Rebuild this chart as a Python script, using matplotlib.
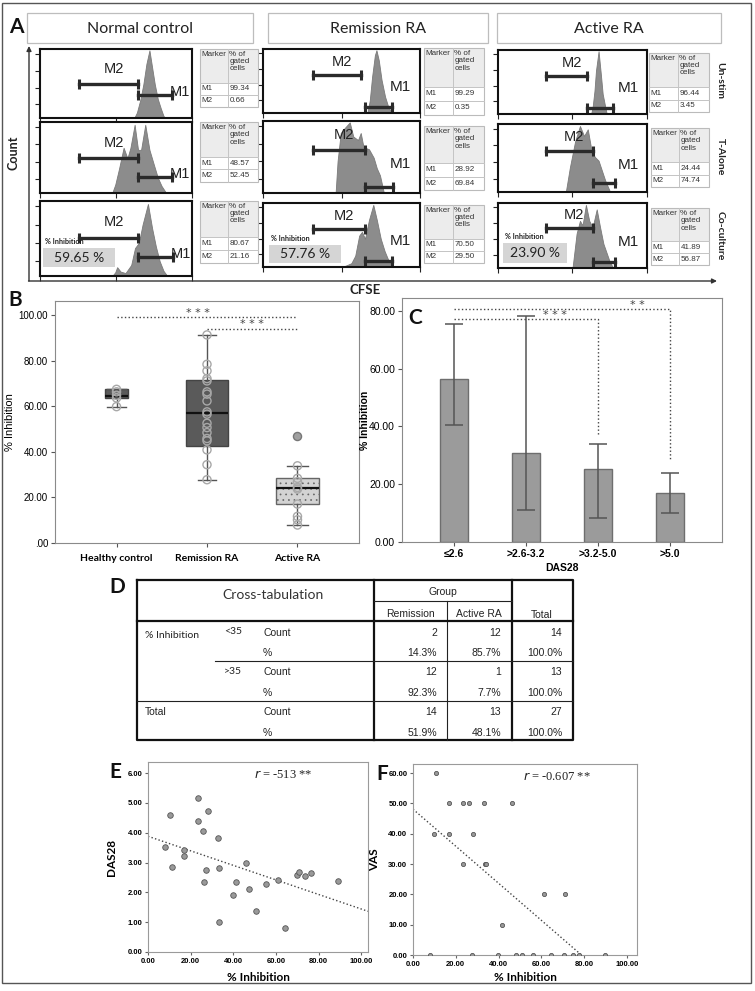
import matplotlib.pyplot as plt
import numpy as np
from matplotlib import font_manager
from matplotlib.patches import Rectangle

W, H = 755, 991

names = {f.name for f in font_manager.fontManager.ttflist}
ARIAL = 'Liberation Sans'
NARROW = 'Liberation Sans Narrow' if 'Liberation Sans Narrow' in names else 'Liberation Sans'
CALIBRI = 'Lato' if 'Lato' in names else 'DejaVu Sans'
SERIF = 'Liberation Serif'
plt.rcParams['font.family'] = ARIAL
plt.rcParams['hatch.color'] = '#9a9a9a'
plt.rcParams['hatch.linewidth'] = 0.5

# ---------------- A: CFSE histograms ----------------
groups = ['Normal control', 'Remission RA', 'Active RA']
conditions = ['Un-stim', 'T-Alone', 'Co-culture']

# histogram outlines: (log10 CFSE, relative count)
nc_unstim = [(2.48, 0), (2.55, 0.08), (2.64, 0.27), (2.72, 0.5), (2.80, 0.8), (2.88, 1.0), (2.95, 0.75),
             (3.02, 0.5), (3.1, 0.28), (3.18, 0.14), (3.25, 0.03), (3.3, 0)]
nc_talone = [(1.9, 0), (1.98, 0.12), (2.08, 0.35), (2.2, 0.65), (2.3, 0.5), (2.38, 0.65), (2.49, 0.98),
             (2.58, 0.62), (2.66, 0.62), (2.77, 0.98), (2.88, 0.62), (3.0, 0.4), (3.1, 0.22), (3.2, 0.1), (3.32, 0)]
nc_cocult = [(1.9, 0), (1.98, 0.05), (2.03, 0.12), (2.12, 0.06), (2.25, 0.04), (2.4, 0.15), (2.5, 0.38),
             (2.6, 0.45), (2.7, 0.7), (2.84, 0.98), (2.95, 0.65), (3.05, 0.4), (3.15, 0.2), (3.25, 0.07), (3.35, 0)]
rem_unstim = [(2.66, 0), (2.72, 0.2), (2.78, 0.58), (2.85, 0.92), (2.89, 1.0), (2.95, 0.84), (3.02, 0.53),
              (3.11, 0.26), (3.19, 0.1), (3.28, 0)]
rem_talone = [(1.85, 0), (1.9, 0.45), (1.98, 0.85), (2.08, 0.92), (2.21, 1.0), (2.3, 0.8), (2.42, 0.75),
              (2.49, 0.85), (2.56, 0.65), (2.7, 0.62), (2.82, 0.5), (2.9, 0.35), (2.98, 0.25), (3.04, 0.1), (3.08, 0)]
rem_cocult = [(1.95, 0), (2.1, 0.02), (2.25, 0.06), (2.35, 0.18), (2.45, 0.5), (2.52, 0.56), (2.6, 0.45),
              (2.7, 0.75), (2.81, 0.99), (2.9, 0.75), (3.0, 0.45), (3.1, 0.25), (3.2, 0.1), (3.3, 0)]
act_unstim = [(2.5, 0), (2.54, 0.11), (2.59, 0.37), (2.63, 0.69), (2.70, 1.0), (2.76, 0.64), (2.81, 0.32),
              (2.88, 0.11), (2.92, 0)]
act_talone = [(1.82, 0), (1.93, 0.37), (2.07, 0.76), (2.20, 0.99), (2.31, 0.84), (2.41, 0.94), (2.52, 0.59),
              (2.61, 0.52), (2.70, 0.47), (2.79, 0.32), (2.88, 0.17), (3.01, 0)]
act_cocult = [(2.0, 0), (2.11, 0.54), (2.20, 0.74), (2.27, 0.67), (2.36, 0.99), (2.45, 0.74), (2.54, 0.64),
              (2.65, 0.92), (2.74, 0.64), (2.83, 0.38), (2.92, 0.23), (3.01, 0.08), (3.1, 0)]
curves = [[nc_unstim, nc_talone, nc_cocult],
          [rem_unstim, rem_talone, rem_cocult],
          [act_unstim, act_talone, act_cocult]]

m1_pct = [[99.34, 48.57, 80.67], [99.29, 28.92, 70.50], [96.44, 24.44, 41.89]]
m2_pct = [[0.66, 52.45, 21.16], [0.35, 69.84, 29.50], [3.45, 74.74, 56.87]]
inhibition_pct = [59.65, 57.76, 23.90]

# gates (log10 start, log10 end, height)
m2_gate = [[(1.03, 2.58, 0.51), (1.03, 2.58, 0.51), (1.03, 2.58, 0.52)],
           [(1.28, 2.49, 0.60), (1.28, 2.60, 0.61), (1.28, 2.60, 0.60)],
           [(1.30, 2.40, 0.61), (1.30, 2.54, 0.62), (1.30, 2.54, 0.62)]]
m1_gate = [[(2.58, 3.47, 0.34), (2.58, 3.47, 0.23), (2.58, 3.50, 0.26)],
           [(2.60, 3.29, 0.09), (2.60, 3.32, 0.08), (2.60, 3.29, 0.09)],
           [(2.40, 3.10, 0.10), (2.54, 3.15, 0.13), (2.54, 3.15, 0.10)]]

# ---------------- B: box plot ----------------
box_groups = ['Healthy control', 'Remission RA', 'Active RA']
box_q1 = [63.7, 42.8, 17.1]
box_med = [64.6, 56.9, 24.1]
box_q3 = [67.5, 71.6, 28.5]
box_lo = [59.9, 27.8, 7.9]
box_hi = [67.5, 91.4, 33.9]
healthy_pts = [67.5, 66.4, 64.9, 63.7, 59.9]
remission_pts = [91.4, 78.5, 75.6, 72.2, 71.2, 66.4, 65.4, 62.4, 57.6, 56.6, 52.6, 50.7, 48.5,
                 45.9, 44.9, 40.9, 34.4, 27.8]
active_pts = [33.9, 28.4, 26.9, 24.4, 23.7, 17.1, 11.7, 10.2, 7.9]
active_outlier = [46.9]

# ---------------- C: bars by DAS28 ----------------
das_groups = ['≤2.6', '>2.6-3.2', '>3.2-5.0', '>5.0']
das_mean = [56.5, 30.8, 25.3, 17.0]
das_low = [40.5, 11.2, 8.2, 10.2]
das_high = [75.3, 78.2, 33.8, 24.0]

# ---------------- D: cross-tabulation ----------------
xt_rows = ['<35', '>35', 'Total']
remission_n = [2, 12, 14]
active_n = [12, 1, 13]
total_n = [14, 13, 27]
remission_p = [14.3, 92.3, 51.9]
active_p = [85.7, 7.7, 48.1]
total_p = [100.0, 100.0, 100.0]

# ---------------- E / F: scatter ----------------
e_inhib = [7.8, 10.1, 11.1, 16.8, 16.8, 23.4, 23.5, 26.0, 26.2, 27.3, 27.9, 33.0, 33.2, 33.5, 39.7,
           41.4, 45.8, 47.5, 50.6, 55.3, 60.9, 64.0, 69.6, 70.6, 73.7, 76.6, 88.9]
e_das28 = [3.52, 4.58, 2.85, 3.42, 3.21, 4.38, 5.16, 4.04, 2.35, 2.74, 4.72, 3.82, 2.82, 0.99, 1.92,
           2.34, 2.98, 2.12, 1.39, 2.27, 2.40, 0.79, 2.59, 2.67, 2.55, 2.65, 2.38]
e_fit = (3.88, -0.0244)
f_inhib = [10.9, 9.8, 16.8, 16.8, 23.5, 26.3, 23.5, 27.9, 33.3, 33.6, 34.0, 46.1, 41.7, 61.4, 71.0,
           7.9, 27.4, 39.9, 48.0, 50.9, 55.9, 64.6, 70.6, 74.6, 77.6, 89.9]
f_vas = [60, 40, 50, 40, 50, 50, 30, 40, 50, 30, 30, 50, 10, 20, 20,
         0, 0, 0, 0, 0, 0, 0, 0, 0, 0, 0]
f_fit = (48.1, -0.611)

fig = plt.figure(figsize=(W / 100, H / 100), dpi=100)


def px_axes(x0, y0, x1, y1):
    return fig.add_axes([x0 / W, 1 - y1 / H, (x1 - x0) / W, (y1 - y0) / H])


# overlay in pixel coordinates for boxes, tables and letters
ov = fig.add_axes([0, 0, 1, 1])
ov.set_xlim(0, W)
ov.set_ylim(H, 0)
ov.axis('off')
ov.set_zorder(10)

ov.add_patch(Rectangle((2, 3), 749, 980, fill=False, ec='#555555', lw=1))

# ---- panel A ----
hist_boxes = [[(40, 49, 192, 118), (40, 122, 192, 193), (40, 201, 192, 276)],
              [(263, 49, 420, 113), (263, 121, 420, 193), (263, 203, 420, 267)],
              [(498, 50, 647, 114), (498, 124, 647, 192), (498, 203, 647, 268)]]
table_boxes = [[(200, 49, 258, 107), (200, 122, 258, 182), (200, 201, 258, 263)],
               [(424, 48, 484, 115), (424, 126, 484, 190), (424, 205, 484, 263)],
               [(649, 53, 709, 112), (651, 128, 709, 187), (651, 208, 709, 265)]]
header_boxes = [(27, 13, 253, 43), (268, 13, 488, 43), (497, 13, 721, 43)]
inhib_boxes = [(43, 248, 115, 267), (269, 245, 341, 263), (503, 243, 567, 263)]

for c in range(3):
    x0, y0, x1, y1 = header_boxes[c]
    ov.add_patch(Rectangle((x0, y0), x1 - x0, y1 - y0, fc='white', ec='#bdbdbd', lw=0.9))
    ov.text((x0 + x1) / 2, (y0 + y1) / 2 + 1, groups[c], ha='center', va='center',
            fontsize=11.5, family=CALIBRI, color='#222222')
    for r in range(3):
        ax = px_axes(*hist_boxes[c][r])
        pts = np.array(curves[c][r])
        ax.fill_between(10 ** pts[:, 0], pts[:, 1], color='#8c8c8c', lw=0.6, ec='#7a7a7a')
        ax.set_xscale('log')
        ax.set_xlim(1, 1e4)
        ax.set_ylim(0, 1.02)
        ax.set_yticks([0.2, 0.45, 0.7, 0.95])
        ax.tick_params(which='both', direction='out', labelbottom=False, labelleft=False,
                       color='#222222', width=0.8)
        ax.tick_params(which='major', length=3.5)
        ax.tick_params(which='minor', length=2)
        for s in ax.spines.values():
            s.set_linewidth(1.5)
            s.set_color('#111111')
        lo, hi, lev = m2_gate[c][r]
        ax.plot([10 ** lo, 10 ** hi], [lev, lev], '-', marker='|', ms=7, mew=2.2, lw=2.4, color='#2a2a2a')
        ax.text(10 ** ((lo + hi) / 2 + 0.13), lev + 0.21, 'M2', ha='center', va='center',
                fontsize=10.5, family=NARROW, color='#222222')
        lo, hi, lev = m1_gate[c][r]
        ax.plot([10 ** lo, 10 ** hi], [lev, lev], '-', marker='|', ms=7, mew=2.2, lw=2.4, color='#2a2a2a')
        if c == 0:
            ax.text(10 ** (hi + 0.22), lev + 0.04, 'M1', ha='center', va='center',
                    fontsize=10.5, family=NARROW, color='#222222')
        else:
            ax.text(10 ** 3.51, 0.41, 'M1', ha='center', va='center',
                    fontsize=11, family=NARROW, color='#222222')

        # gated-cell table
        tx0, ty0, tx1, ty1 = table_boxes[c][r]
        xm = tx0 + 0.48 * (tx1 - tx0)
        yh = ty0 + 0.58 * (ty1 - ty0)
        ym = (yh + ty1) / 2
        ov.add_patch(Rectangle((tx0, ty0), tx1 - tx0, yh - ty0, fc='#ececec', ec='none'))
        ov.add_patch(Rectangle((tx0, ty0), tx1 - tx0, ty1 - ty0, fc='none', ec='#bbbbbb', lw=0.8))
        ov.plot([xm, xm], [ty0, ty1], color='#c4c4c4', lw=0.7)
        ov.plot([tx0, tx1], [yh, yh], color='#c4c4c4', lw=0.7)
        ov.plot([tx0, tx1], [ym, ym], color='#c4c4c4', lw=0.7)
        tk = dict(fontsize=5.8, family=NARROW, color='#333333')
        ov.text(tx0 + 1.2, ty0 + 2, 'Marker', ha='left', va='top', **tk)
        ov.text(xm + 1.5, ty0 + 2, '% of\ngated\ncells', ha='left', va='top', linespacing=1.05, **tk)
        ov.text(tx0 + 1.5, (yh + ym) / 2, 'M1', ha='left', va='center', **tk)
        ov.text(xm + 1.5, (yh + ym) / 2, f'{m1_pct[c][r]:.2f}', ha='left', va='center', **tk)
        ov.text(tx0 + 1.5, (ym + ty1) / 2, 'M2', ha='left', va='center', **tk)
        ov.text(xm + 1.5, (ym + ty1) / 2, f'{m2_pct[c][r]:.2f}', ha='left', va='center', **tk)

    bx0, by0, bx1, by1 = inhib_boxes[c]
    ov.add_patch(Rectangle((bx0, by0), bx1 - bx0, by1 - by0, fc='#d5d5d5', ec='none'))
    ov.text(bx0 + 2, by0 - 3, '% Inhibition', ha='left', va='bottom', fontsize=5.2,
            family=CALIBRI, weight='bold', color='#222222')
    ov.text((bx0 + bx1) / 2, (by0 + by1) / 2, f'{inhibition_pct[c]:.2f} %', ha='center', va='center',
            fontsize=10, family=CALIBRI, color='#222222')

for r, y in zip(range(3), [80, 157, 236]):
    ov.text(720, y, conditions[r], rotation=-90, ha='center', va='center', fontsize=7.5,
            family=CALIBRI, weight='bold', color='#222222')

ov.annotate('', xy=(29, 46), xytext=(29, 281),
            arrowprops=dict(arrowstyle='-|>', color='#333333', lw=1, mutation_scale=7, shrinkA=0, shrinkB=0))
ov.annotate('', xy=(717, 281), xytext=(28.5, 281),
            arrowprops=dict(arrowstyle='-|>', color='#333333', lw=1, mutation_scale=7, shrinkA=0, shrinkB=0))
ov.text(14, 153, 'Count', rotation=90, ha='center', va='center', fontsize=9, family=CALIBRI,
        weight='bold', color='#222222')
ov.text(365, 290, 'CFSE', ha='center', va='center', fontsize=9.5, family=CALIBRI, weight='bold',
        color='#222222')

# ---- panel B ----
axB = px_axes(55, 301, 359, 543)
stats = []
for i in range(3):
    stats.append(dict(label=box_groups[i], q1=box_q1[i], med=box_med[i], q3=box_q3[i],
                      whislo=box_lo[i], whishi=box_hi[i], fliers=[]))
bp = axB.bxp(stats, positions=[1, 2, 3], widths=[0.25, 0.475, 0.475], capwidths=[0.22, 0.2, 0.24],
             patch_artist=True, showfliers=False,
             boxprops=dict(edgecolor='#444444', lw=1),
             medianprops=dict(color='#111111', lw=1.6),
             whiskerprops=dict(color='#555555', lw=1),
             capprops=dict(color='#555555', lw=1))
for patch, fc in zip(bp['boxes'], ['#5a5a5a', '#5a5a5a', '#d3d3d3']):
    patch.set_facecolor(fc)
bp['boxes'][2].set_hatch('...')
bp['boxes'][2].set_edgecolor('#666666')
for pos, pts in zip([1, 2, 3], [healthy_pts, remission_pts, active_pts]):
    axB.scatter([pos] * len(pts), pts, s=34, facecolors='none', edgecolors='#a8a8a8', lw=1, zorder=4)
axB.scatter([3] * len(active_outlier), active_outlier, s=34, facecolors='#a0a0a0', edgecolors='#777777',
            lw=1, zorder=4)
star = dict(ha='center', va='bottom', fontsize=8, family='DejaVu Sans', color='#444444')
axB.plot([1, 3], [99.4, 99.4], ls=':', color='#444444', lw=1)
axB.plot([2, 3], [94.2, 94.2], ls=':', color='#444444', lw=1)
axB.text(1.9, 99.0, '* * *', **star)
axB.text(2.5, 93.8, '* * *', **star)
axB.set_xlim(0.32, 3.68)
axB.set_ylim(0, 106.3)
axB.set_yticks([0, 20, 40, 60, 80, 100], ['.00', '20.00', '40.00', '60.00', '80.00', '100.00'], fontsize=7)
axB.set_xticks([1, 2, 3], box_groups, fontsize=7.5, family=CALIBRI, weight='bold')
axB.tick_params(direction='out', length=3, color='#555555', pad=2)
axB.tick_params(axis='x', pad=5)
for s in axB.spines.values():
    s.set_color('#8a8a8a')
axB.set_ylabel('% Inhibition', fontsize=8)
axB.yaxis.set_label_coords(-0.13, 0.5)

# ---- panel C ----
axC = px_axes(402, 298, 722, 542)
xc = np.arange(len(das_groups))
yerr = [np.array(das_mean) - np.array(das_low), np.array(das_high) - np.array(das_mean)]
axC.bar(xc, das_mean, width=0.385, color='#9b9b9b', edgecolor='#6e6e6e', lw=1,
        yerr=yerr, capsize=6.5, error_kw=dict(ecolor='#555555', elinewidth=1.1, capthick=1.1))
axC.plot([0, 2, 2], [77.1, 77.1, 37], ls=':', color='#444444', lw=1)
axC.plot([0, 3, 3], [80.7, 80.7, 28.3], ls=':', color='#444444', lw=1)
axC.text(1.4, 76.8, '* * *', **star)
axC.text(2.54, 80.4, '* *', **star)
axC.set_xlim(-0.72, 3.72)
axC.set_ylim(0, 84.4)
axC.set_yticks([0, 20, 40, 60, 80], ['0.00', '20.00', '40.00', '60.00', '80.00'], fontsize=7.5)
axC.set_xticks(xc, das_groups, fontsize=7.5, weight='bold')
axC.tick_params(direction='out', length=3, color='#555555', pad=2)
for s in axC.spines.values():
    s.set_color('#8a8a8a')
axC.set_xlabel('DAS28', fontsize=7.5, weight='bold')
axC.xaxis.set_label_coords(0.5, -0.085)
axC.set_ylabel('% Inhibition', fontsize=7.5, weight='bold')
axC.yaxis.set_label_coords(-0.1, 0.5)

# ---- panel D ----
tl, tr, tt, tb = 137, 573, 580, 740
thick = dict(color='#111111', lw=1.6)
thin = dict(color='#222222', lw=0.8)
ov.plot([tl, tr, tr, tl, tl], [tt, tt, tb, tb, tt], **thick)
ov.plot([374, 374], [tt, tb], **thick)
ov.plot([512, 512], [tt, tb], **thick)
ov.plot([447, 447], [601, tb], **thin)
ov.plot([374, 512], [601, 601], **thin)
ov.plot([tl, tr], [621, 621], **thick)
ov.plot([215, tr], [661, 661], **thin)
ov.plot([tl, tr], [701, 701], **thin)
ov.text(273, 595, 'Cross-tabulation', ha='center', va='center', fontsize=10, family=CALIBRI, color='#333333')
ov.text(443, 592, 'Group', ha='center', va='center', fontsize=7.5, family=NARROW, color='#222222')
ov.text(410, 614, 'Remission', ha='center', va='center', fontsize=7.5, family=NARROW, color='#222222')
ov.text(479, 614, 'Active RA', ha='center', va='center', fontsize=7.5, family=NARROW, color='#222222')
ov.text(542, 615, 'Total', ha='center', va='center', fontsize=7.5, family=NARROW, color='#222222')
ov.text(145, 635, '% Inhibition', ha='left', va='center', fontsize=7.5, family=CALIBRI, color='#222222')
ov.text(145, 712, 'Total', ha='left', va='center', fontsize=7.5, family=NARROW, color='#222222')
row_y = [(633, 653), (672, 693), (712, 733)]
for i in range(3):
    yc, yp = row_y[i]
    if i < 2:
        ov.text(224, yc - 1, xt_rows[i], ha='left', va='center', fontsize=7.5, family=CALIBRI, color='#222222')
    ov.text(263, yc, 'Count', ha='left', va='center', fontsize=7.5, family=NARROW, color='#222222')
    ov.text(263, yp, '%', ha='left', va='center', fontsize=7.5, family=NARROW, color='#222222')
    for xr, n, p in zip([437, 501, 562], [remission_n, active_n, total_n], [remission_p, active_p, total_p]):
        ov.text(xr, yc, f'{n[i]}', ha='right', va='center', fontsize=7.5, family=NARROW, color='#222222')
        ov.text(xr, yp, f'{p[i]:.1f}%', ha='right', va='center', fontsize=7.5, family=NARROW, color='#222222')


# ---- panels E and F ----
def scatter_panel(box, xs, ys, fit, fit_end, lims, yticks, ylabel, rtext, rx, ylab_x, xlab_y, ms):
    ax = px_axes(*box)
    ax.scatter(xs, ys, s=ms, facecolors='#999999', edgecolors='#555555', lw=0.6, zorder=3)
    xf = np.array([0, fit_end])
    ax.plot(xf, fit[0] + fit[1] * xf, ls=':', color='#444444', lw=1)
    ax.set_xlim(0, lims[0])
    ax.set_ylim(0, lims[1])
    ax.set_xticks([0, 20, 40, 60, 80, 100], ['0.00', '20.00', '40.00', '60.00', '80.00', '100.00'],
                  fontsize=5.5, weight='bold', family=NARROW)
    ax.set_yticks(yticks, [f'{t:.2f}' for t in yticks], fontsize=5.5, weight='bold', family=NARROW)
    ax.tick_params(direction='out', length=2.5, color='#666666', pad=1.5)
    for s in ax.spines.values():
        s.set_color('#9a9a9a')
    ax.set_xlabel('% Inhibition', fontsize=8.5, weight='bold', family=CALIBRI)
    ax.xaxis.set_label_coords(0.5, xlab_y)
    ax.set_ylabel(ylabel, fontsize=8.5, weight='bold', family=CALIBRI)
    ax.yaxis.set_label_coords(ylab_x, 0.5)
    ax.text(rx, 0.93, rtext, transform=ax.transAxes, ha='left', va='center', fontsize=9,
            family=SERIF, color='#222222')
    return ax


axE = scatter_panel((148, 762, 368, 952), e_inhib, e_das28, e_fit, 103.1, (103.1, 6.37),
                    [0, 1, 2, 3, 4, 5, 6], 'DAS28', '$r$ = -513 **', 0.48, -0.14, -0.105, 16)
axF = scatter_panel((413, 764, 637, 955), f_inhib, f_vas, f_fit, 78.7, (104.7, 63.0),
                    [0, 10, 20, 30, 40, 50, 60], 'VAS', '$r$ = -0.607 **', 0.49, -0.147, -0.09, 9)

# panel letters
for letter, (x, y) in zip('ABCDEF', [(16, 27), (15, 300), (415, 318), (117, 587), (115, 772), (382, 774)]):
    ov.text(x, y, letter, ha='center', va='center', fontsize=15, family=CALIBRI, weight='bold', color='#111111')

fig.savefig('out.png', dpi=100)
